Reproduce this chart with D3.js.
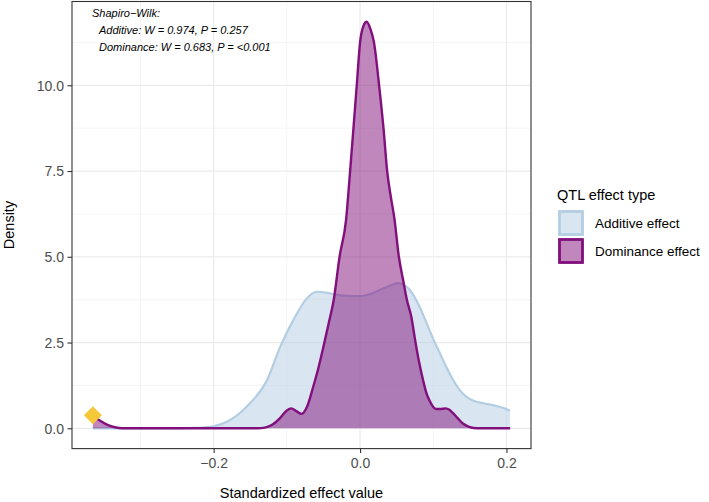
<!DOCTYPE html>
<html>
<head>
<meta charset="utf-8">
<script src="https://cdn.jsdelivr.net/npm/d3@7"></script>
<style>
body{margin:0;background:#fff;}
text{font-family:"Liberation Sans",Arial,sans-serif;}
</style>
</head>
<body>
<div id="chart"></div>
<script>
var width=709, height=502;

// density curves (x = standardized effect, d = density)
var addX=[-0.365,-0.30,-0.25,-0.227,-0.2,-0.182,-0.155,-0.127,-0.109,-0.091,-0.073,-0.059,-0.045,-0.036,-0.018,0.0,0.015,0.027,0.040,0.052,0.060,0.068,0.080,0.091,0.100,0.109,0.118,0.127,0.136,0.145,0.155,0.168,0.186,0.196,0.205];
var addD=[0,0,0,0.01,0.06,0.19,0.63,1.41,2.38,3.16,3.78,3.98,3.95,3.91,3.86,3.85,3.92,4.03,4.15,4.23,4.18,4.03,3.6,3.06,2.6,2.19,1.78,1.41,1.12,0.92,0.8,0.73,0.65,0.59,0.51];

var domX=[-0.365,-0.355,-0.345,-0.335,-0.325,-0.30,-0.20,-0.14,-0.13,-0.12,-0.11,-0.10,-0.094,-0.087,-0.080,-0.072,-0.064,-0.057,-0.050,-0.043,-0.036,-0.028,-0.019,-0.0136,-0.009,-0.0045,0.0,0.005,0.009,0.014,0.019,0.026,0.032,0.037,0.042,0.047,0.053,0.059,0.064,0.070,0.075,0.080,0.086,0.091,0.095,0.100,0.104,0.110,0.117,0.122,0.127,0.134,0.141,0.148,0.155,0.165,0.205];
var domD=[0.36,0.22,0.10,0.03,0,0,0,0,0.02,0.10,0.28,0.52,0.58,0.50,0.42,0.65,1.21,1.75,2.38,3.05,3.74,5.0,6.1,7.5,8.75,10.0,11.25,11.75,11.85,11.65,11.25,10.0,8.75,7.5,6.75,6.1,5.0,4.3,3.74,3.25,2.6,2.0,1.41,1.0,0.8,0.62,0.56,0.56,0.58,0.54,0.44,0.28,0.13,0.05,0.01,0,0];

var markX=[-0.365], markD=[0.38]; // highlighted point
var xTicks=[-0.2,0,0.2], yTicks=[0,2.5,5,7.5,10];
var xMinor=[-0.3,-0.1,0.1], yMinor=[1.25,3.75,6.25,8.75,11.25];
var seriesNames=["Additive effect","Dominance effect"];
var seriesColors=["#b3cde3","#810f7c"];
var noteLines=["Shapiro\u2212Wilk:","Additive: W = 0.974, P = 0.257","Dominance: W = 0.683, P = <0.001"];

var pLeft=72, pRight=531, pTop=1.5, pBottom=448.6;

var xmin=d3.min(addX.concat(domX)), xmax=d3.max(addX.concat(domX));
var ymax=d3.max(addD.concat(domD));
var xpad=(xmax-xmin)*0.05, ypad=ymax*0.05;
var x=d3.scaleLinear().domain([xmin-xpad,xmax+xpad]).range([pLeft,pRight]);
var y=d3.scaleLinear().domain([-ypad,ymax+ypad]).range([pBottom,pTop]);

var svg=d3.select("#chart").append("svg").attr("width",width).attr("height",height);
svg.append("rect").attr("width",width).attr("height",height).attr("fill","#fff");

// grid
xMinor.forEach(function(v){svg.append("line").attr("x1",x(v)).attr("x2",x(v)).attr("y1",pTop).attr("y2",pBottom).attr("stroke","#f2f2f2").attr("stroke-width",0.8);});
yMinor.forEach(function(v){svg.append("line").attr("x1",pLeft).attr("x2",pRight).attr("y1",y(v)).attr("y2",y(v)).attr("stroke","#f2f2f2").attr("stroke-width",0.8);});
xTicks.forEach(function(v){svg.append("line").attr("x1",x(v)).attr("x2",x(v)).attr("y1",pTop).attr("y2",pBottom).attr("stroke","#ebebeb").attr("stroke-width",1.2);});
yTicks.forEach(function(v){svg.append("line").attr("x1",pLeft).attr("x2",pRight).attr("y1",y(v)).attr("y2",y(v)).attr("stroke","#ebebeb").attr("stroke-width",1.2);});

var area=d3.area().x(function(d){return x(d[0]);}).y0(y(0)).y1(function(d){return y(d[1]);}).curve(d3.curveMonotoneX);
var line=d3.line().x(function(d){return x(d[0]);}).y(function(d){return y(d[1]);}).curve(d3.curveMonotoneX);

var addPts=d3.zip(addX,addD), domPts=d3.zip(domX,domD);
svg.append("path").datum(addPts).attr("d",area).attr("fill",seriesColors[0]).attr("fill-opacity",0.5);
svg.append("path").datum(addPts).attr("d",line).attr("fill","none").attr("stroke",seriesColors[0]).attr("stroke-width",2.2);
svg.append("path").datum(domPts).attr("d",area).attr("fill",seriesColors[1]).attr("fill-opacity",0.5);
svg.append("path").datum(domPts).attr("d",line).attr("fill","none").attr("stroke",seriesColors[1]).attr("stroke-width",2.4);

// marker
svg.selectAll(".mark").data(d3.zip(markX,markD)).enter().append("path")
	.attr("d",d3.symbol().type(d3.symbolSquare).size(165))
	.attr("transform",function(d){return "translate("+x(d[0])+","+y(d[1])+") rotate(45)";})
	.attr("fill","#f5c83a");

// panel border
svg.append("rect").attr("x",pLeft).attr("y",pTop).attr("width",pRight-pLeft).attr("height",pBottom-pTop).attr("fill","none").attr("stroke","#333").attr("stroke-width",1.1);

// axes
var xAxis=svg.append("g").attr("transform","translate(0,"+pBottom+")")
	.call(d3.axisBottom(x).tickValues(xTicks).tickSize(4.5).tickFormat(function(d){return d3.format(".1f")(d).replace("-","\u2212");}));
var yAxis=svg.append("g").attr("transform","translate("+pLeft+",0)")
	.call(d3.axisLeft(y).tickValues(yTicks).tickSize(4.5).tickFormat(d3.format(".1f")));
[xAxis,yAxis].forEach(function(a){
	a.select(".domain").remove();
	a.selectAll(".tick line").attr("stroke","#333").attr("stroke-width",1.1);
	a.selectAll(".tick text").attr("fill","#4d4d4d").attr("font-size",14).attr("font-family","Liberation Sans, Arial, sans-serif");
});
xAxis.selectAll(".tick text").attr("dy",null).attr("y",19.5);
yAxis.selectAll(".tick text").attr("x",-8).attr("dy","0.35em");

svg.append("text").attr("x",(pLeft+pRight)/2).attr("y",498).attr("text-anchor","middle").attr("font-size",14.5).attr("fill","#000").text("Standardized effect value");
svg.append("text").attr("transform","translate(14,"+((pTop+pBottom)/2)+") rotate(-90)").attr("text-anchor","middle").attr("font-size",14.5).attr("fill","#000").text("Density");

// annotation
noteLines.forEach(function(t,i){
	svg.append("text").attr("x",i==0?92:99).attr("y",17+i*17).attr("font-size",11).attr("font-style","italic").attr("fill","#000").text(t);
});

// legend
svg.append("text").attr("x",557).attr("y",200).attr("font-size",14.5).attr("fill","#000").text("QTL effect type");
seriesNames.forEach(function(n,i){
	svg.append("rect").attr("x",559.5).attr("y",211.5+i*28).attr("width",23).attr("height",23)
		.attr("fill",seriesColors[i]).attr("fill-opacity",0.5).attr("stroke",seriesColors[i]).attr("stroke-width",2.4);
	svg.append("rect").attr("x",559.5).attr("y",211.5+i*28).attr("width",23).attr("height",23).attr("fill","none").attr("stroke",seriesColors[i]).attr("stroke-width",2.4);
	svg.append("text").attr("x",595).attr("y",228+i*28).attr("font-size",13.5).attr("fill","#000").text(n);
});
</script>
</body>
</html>
